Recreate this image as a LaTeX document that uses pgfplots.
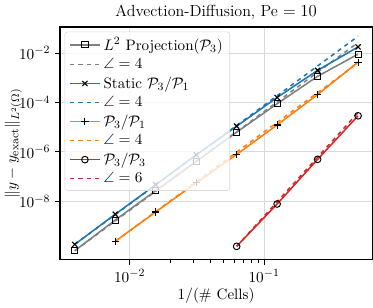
\documentclass[border=0pt]{standalone}
\usepackage{pgfplots}
\pgfplotsset{compat=1.18}
\usepackage{amsmath,amssymb}
\definecolor{tabgray}{HTML}{7F7F7F}
\definecolor{tabblue}{HTML}{1F77B4}
\definecolor{taborange}{HTML}{FF7F0E}
\definecolor{tabred}{HTML}{D62728}
\begin{document}
\begin{tikzpicture}[font=\fontsize{10.8}{13}\selectfont]
\begin{axis}[
  scale only axis,
  width=224pt, height=167pt,
  xmode=log, ymode=log,
  xmin=0.00303, xmax=0.638,
  ymin=4.3e-11, ymax=0.115,
  ytick={1e-8,1e-6,1e-4,1e-2},
  yminorticks=false,
  xtick={0.01,0.1},
  grid=major,
  major grid style={gray!30, line width=0.6pt},
  axis line style={line width=1pt},
  tick align=outside,
  tick pos=left,
  major tick length=3.5pt,
  minor tick length=2pt,
  every tick/.style={black, line width=0.6pt},
  tick label style={font=\fontsize{10.8}{13}\selectfont},
  label style={font=\fontsize{10.8}{13}\selectfont},
  title style={font=\fontsize{11.5}{13}\selectfont, yshift=-4pt},
  title={Advection-Diffusion, Pe $=10$},
  xlabel={$1/(\#\text{ Cells})$},
  ylabel={$\|y-y_{\mathrm{exact}}\|_{L^2(\Omega)}$},
  xlabel style={yshift=3pt},
  ylabel style={yshift=-9pt},
  legend cell align=left,
  legend image code/.code={\draw[mark repeat=2,mark phase=2] plot coordinates {(0cm,0cm) (0.38cm,0cm) (0.76cm,0cm)};},
  legend style={at={(0.015,0.98)}, anchor=north west, draw=gray!30, rounded corners=2pt,
    fill=white, fill opacity=0.8, text opacity=1, font=\fontsize{10.8}{13}\selectfont, row sep=0.3pt,
    inner xsep=3pt, inner ysep=2pt},
]
\addplot[tabgray, line width=1.1pt, mark=square, mark size=2.2pt, mark options={solid, draw=black, fill=white, line width=0.7pt}]
  coordinates {(0.00390625,1.0e-10) (0.0078125,1.74e-9) (0.015625,2.7e-8) (0.03125,4.1e-7) (0.0625,6.3e-6) (0.125,8.9e-5) (0.25,1.15e-3) (0.5,9.1e-3)};
\addlegendentry{$L^2$ Projection$(\mathcal{P}_3)$}
\addplot[tabgray, dashed, line width=1.1pt] coordinates {(0.00390625,1.0e-10) (0.5,2.68e-2)};
\addlegendentry{$\angle=4$}
\addplot[tabblue, line width=1.1pt, mark=x, mark size=2.6pt, mark options={solid, draw=black, line width=0.8pt}]
  coordinates {(0.00390625,1.8e-10) (0.0078125,3.0e-9) (0.015625,4.7e-8) (0.03125,7.6e-7) (0.0625,1.1e-5) (0.125,1.6e-4) (0.25,2.0e-3) (0.5,1.78e-2)};
\addlegendentry{Static $\mathcal{P}_3/\mathcal{P}_1$}
\addplot[tabblue, dashed, line width=1.1pt] coordinates {(0.00390625,1.8e-10) (0.5,4.8e-2)};
\addlegendentry{$\angle=4$}
\addplot[taborange, line width=1.1pt, mark=+, mark size=2.6pt, mark options={solid, draw=black, line width=0.8pt}]
  coordinates {(0.0078125,2.4e-10) (0.015625,3.7e-9) (0.03125,5.6e-8) (0.0625,7.9e-7) (0.125,1.23e-5) (0.25,2.1e-4) (0.5,4.3e-3)};
\addlegendentry{$\mathcal{P}_3/\mathcal{P}_1$}
\addplot[taborange, dashed, line width=1.1pt] coordinates {(0.0078125,2.4e-10) (0.5,4.0e-3)};
\addlegendentry{$\angle=4$}
\addplot[tabred, line width=1.1pt, mark=o, mark size=2.4pt, mark options={solid, draw=black, fill=white, line width=0.7pt}]
  coordinates {(0.0625,1.5e-10) (0.125,7.8e-9) (0.25,5.0e-7) (0.5,2.9e-5)};
\addlegendentry{$\mathcal{P}_3/\mathcal{P}_3$}
\addplot[tabred, dashed, line width=1.1pt] coordinates {(0.0625,1.5e-10) (0.5,3.9e-5)};
\addlegendentry{$\angle=6$}
\end{axis}
\end{tikzpicture}
\end{document}
